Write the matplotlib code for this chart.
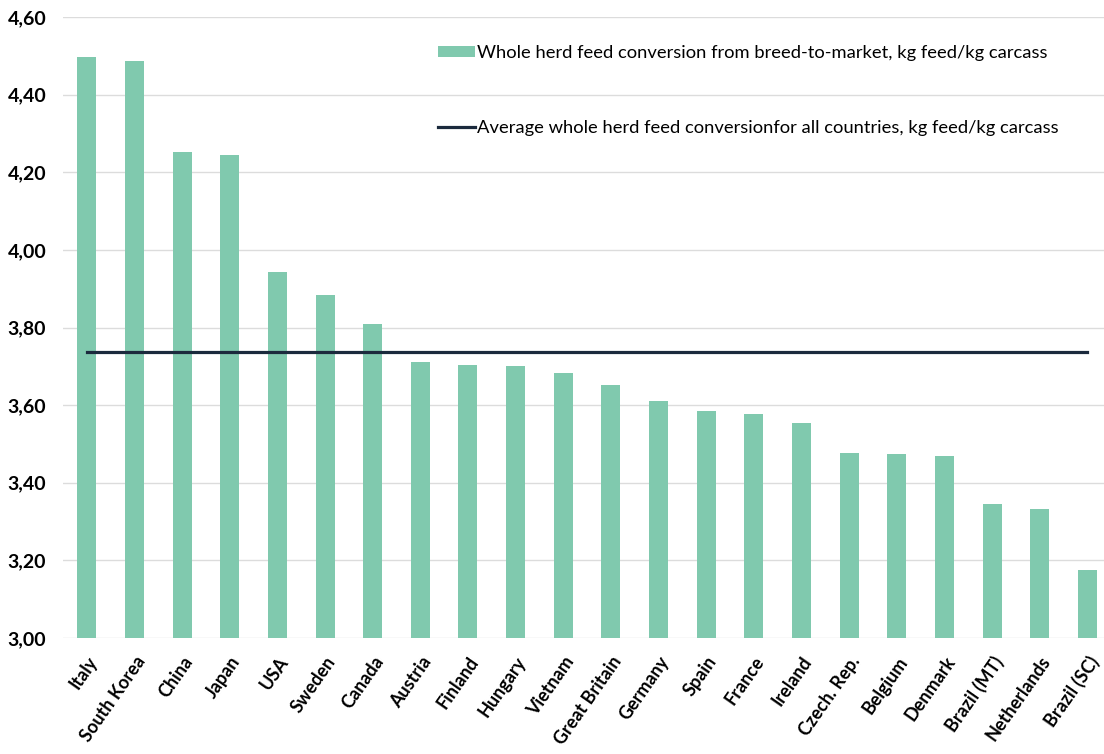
import matplotlib.pyplot as plt
from matplotlib.ticker import FuncFormatter

countries = ["Italy", "South Korea", "China", "Japan", "USA", "Sweden", "Canada",
             "Austria", "Finland", "Hungary", "Vietnam", "Great Britain", "Germany",
             "Spain", "France", "Ireland", "Czech. Rep.", "Belgium", "Denmark",
             "Brazil (MT)", "Netherlands", "Brazil (SC)"]
feed_conversion = [4.497, 4.486, 4.252, 4.245, 3.942, 3.884, 3.810, 3.711, 3.703,
                   3.700, 3.683, 3.651, 3.611, 3.585, 3.577, 3.554, 3.477, 3.473,
                   3.470, 3.344, 3.333, 3.174]
average_fc = 3.736

bar_color = "#80c9ae"
line_color = "#1b2a3d"

plt.rcParams["font.family"] = ["Lato", "DejaVu Sans"]

fig = plt.figure(figsize=(11.04, 7.54), dpi=100)
ax = fig.add_axes([63 / 1104, 116 / 754, 1041 / 1104, 621 / 754])

x = list(range(len(countries)))
bars = ax.bar(x, feed_conversion, width=0.40, color=bar_color, zorder=2,
              label="Whole herd feed conversion from breed-to-market, kg feed/kg carcass")
avg_line, = ax.plot([x[0], x[-1]], [average_fc, average_fc], color=line_color,
                    linewidth=2.3, zorder=3,
                    label="Average whole herd feed conversionfor all countries, kg feed/kg carcass")

ax.set_ylim(3.0, 4.6)
ax.set_yticks([3.0, 3.2, 3.4, 3.6, 3.8, 4.0, 4.2, 4.4, 4.6])
ax.yaxis.set_major_formatter(FuncFormatter(lambda v, p: f"{v:.2f}".replace(".", ",")))
ax.set_xlim(-0.5, 21.35)
ax.set_xticks(x)
ax.set_xticklabels(countries, rotation=55, ha="right", va="top",
                   rotation_mode="anchor", fontsize=13, fontweight="bold")
for lbl in ax.get_yticklabels():
    lbl.set_fontweight("bold")
    lbl.set_fontsize(14)

ax.tick_params(axis="y", length=0, pad=12)
ax.tick_params(axis="x", length=0, pad=11)
for s in ax.spines.values():
    s.set_visible(False)
ax.grid(axis="y", color="#dcdcdc", linewidth=1.0, zorder=0)

ax.legend(handles=[bars, avg_line], loc="upper left",
          bbox_to_anchor=(438 / 1104, 1 - 45 / 754),
          bbox_transform=fig.transFigure, frameon=False, fontsize=13.2,
          handlelength=2.0, handleheight=0.6, handletextpad=0.15,
          labelspacing=3.2, borderaxespad=0, borderpad=0)

fig.savefig("out.png", dpi=100)
